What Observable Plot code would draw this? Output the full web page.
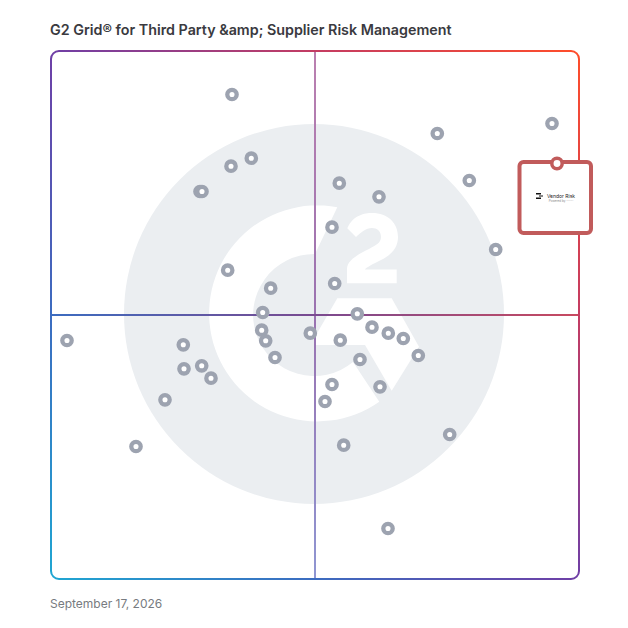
<!DOCTYPE html>
<html>
<head>
<meta charset="utf-8">
<script src="https://cdn.jsdelivr.net/npm/d3@7"></script>
<script src="https://cdn.jsdelivr.net/npm/@observablehq/plot@0.6"></script>
<style>
html,body{margin:0;padding:0;background:#fff;overflow:hidden}
#title{height:44px;box-sizing:border-box;padding:21px 0 0 50px;font:600 14.3px/17px Inter,sans-serif;color:#3a3a40;white-space:nowrap}
#caption{height:32px;box-sizing:border-box;padding:0 0 0 50px;font:400 12px/16px Inter,sans-serif;color:#777b80}
svg{display:block}
</style>
</head>
<body>
<div id="title"></div>
<div id="chart"></div>
<div id="caption"></div>
<script>
const titleText = "G2 Grid® for Third Party &amp; Supplier Risk Management";
const captionText = "September 17, 2026";
const productName = "Vendor Risk";
// The name after "Powered by" is too small to read in the reference, so it stays unfilled.
const productTagline = "Powered by ········";

// Scores, 0 to 528 on both axes
const marketPresence = [386.3,418.3,444.7,200.3,180,149,151,288.3,328,281,176.7,219.7,283.7,211.7,306.3,321,337.3,352.3,367.3,210.7,214.7,259.3,289.3,224,309,132.3,133,150.7,160,114,281,329,274,398.7,292.7,85,181,501,16,337];
const satisfaction = [446,399,330,421.3,413.3,388,388,396.3,382.7,352.3,309.3,291.3,296,267,265.7,252.3,246.3,241,224,249.3,238.7,246.3,239.3,222,220,234.7,210.7,213.7,201.3,179.7,195,192.7,178,145,134.3,133,485,456,239,51];
const highlightX = [506];
const highlightY = [416];
const cardBox = [{x1: 468.5, x2: 540, y1: 346, y2: 417}];
const iconBars = [
  {x1: 485, x2: 490, y1: 384.5, y2: 386},
  {x1: 488, x2: 492, y1: 382.5, y2: 383.5},
  {x1: 485, x2: 490, y1: 380, y2: 381.5}
];
const gridSize = 528;
const frameStops = [["0%","#1fa6d2"],["25%","#3c6cc0"],["50%","#6f3fa6"],["75%","#c43c62"],["100%","#ff4d2a"]];
const hStops = [["0%","#3c6cc0"],["50%","#7a4a90"],["100%","#c84a60"]];
const vStops = [["0%","#bb80b0"],["50%","#9a72b0"],["100%","#8f96d2"]];

const points = marketPresence.map((x, i) => ({x, y: satisfaction[i]}));
const highlight = highlightX.map((x, i) => ({x, y: highlightY[i]}));

document.getElementById("title").textContent = titleText;
document.getElementById("caption").textContent = captionText;

function backdrop(index, {x, y}) {
  const cx = x(gridSize / 2), cy = y(gridSize / 2);
  const g = d3.create("svg:g");
  const defs = g.append("defs");
  const grad = (id, x1, y1, x2, y2, stops) => {
    const lg = defs.append("linearGradient").attr("id", id).attr("gradientUnits", "userSpaceOnUse")
      .attr("x1", x1).attr("y1", y1).attr("x2", x2).attr("y2", y2);
    stops.forEach(([o, c]) => lg.append("stop").attr("offset", o).attr("stop-color", c));
  };
  grad("gridGrad", x(0), y(0), x(gridSize), y(gridSize), frameStops);
  grad("hGrad", x(0), cy, x(gridSize), cy, hStops);
  grad("vGrad", cx, y(gridSize), cx, y(0), vStops);
  g.append("circle").attr("cx", cx - 1).attr("cy", cy - 1).attr("r", 190).attr("fill", "#ebeef1");
  const logo = g.append("g").attr("transform", `translate(${cx},${cy})`).attr("fill", "#fff");
  // G ring
  logo.append("path").attr("d", "M22.3,-107.7 A108,108 0 1 0 64.3,86.7 L38,47 A61,61 0 1 1 0,-61 Z");
  // lower chevron
  logo.append("path").attr("d", "M0,30 L50,30 L76.7,75.7 L104,31.7 L76.7,-16.7 L22.3,-16.7 L0,21.7 Z");
  // numeral 2
  logo.append("path").attr("d", "M32.3,-86.7 C38,-100 50,-102 57,-102 C73,-102 83,-92 83,-78 C83,-67 76,-60 66,-55 C58,-51 50,-47 50,-45.5 L81.7,-45.5 L81.7,-31.7 L32,-31.7 L32,-46 C32,-55 44,-61 54,-66 C61,-70 66,-72 66,-78 C66,-84 62,-87 57,-87 C51,-87 45,-82 41,-78 Z");
  return g.node();
}

const plot = Plot.plot({
  width: 628, height: 552,
  marginLeft: 51, marginRight: 49, marginTop: 7, marginBottom: 17,
  x: {domain: [0, gridSize], axis: null},
  y: {domain: [0, gridSize], axis: null},
  marks: [
    backdrop,
    Plot.ruleX([gridSize / 2], {stroke: "url(#vGrad)", strokeWidth: 2, dx: -0.5}),
    Plot.ruleY([gridSize / 2], {stroke: "url(#hGrad)", strokeWidth: 2, dy: -0.5}),
    Plot.rect([{x1: 0, x2: gridSize, y1: 0, y2: gridSize}], {x1: "x1", x2: "x2", y1: "y1", y2: "y2", fill: "none", stroke: "url(#gridGrad)", strokeWidth: 2, rx: 8}),
    Plot.dot(points, {x: "x", y: "y", r: 4.7, fill: "#fff", stroke: "#9da3b0", strokeWidth: 4.3, dx: -0.5}),
    Plot.rect(cardBox, {x1: "x1", x2: "x2", y1: "y1", y2: "y2", fill: "#fff", stroke: "#c15b5b", strokeWidth: 4, rx: 4}),
    Plot.rect(iconBars, {x1: "x1", x2: "x2", y1: "y1", y2: "y2", fill: "#111"}),
    Plot.text([productName], {x: 509.5, y: 383, text: d => d, fontSize: 5, fill: "#222", fontFamily: "Inter"}),
    Plot.text([productTagline], {x: 509.5, y: 378.5, text: d => d, fontSize: 3, fill: "#888", fontFamily: "Inter"}),
    Plot.dot(highlight, {x: "x", y: "y", r: 5.2, fill: "#fff", stroke: "#c15b5b", strokeWidth: 3.5, dx: -0.5})
  ]
});
document.getElementById("chart").appendChild(plot);
</script>
</body>
</html>
